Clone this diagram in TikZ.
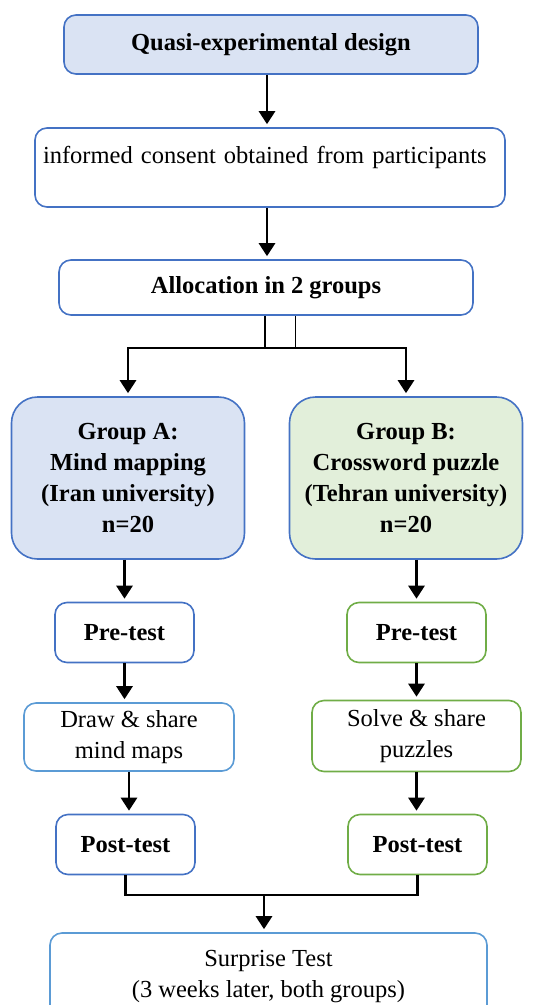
\documentclass[tikz,border=0pt]{standalone}
\usepackage{fontspec}
\setmainfont{Liberation Serif}
\usetikzlibrary{arrows.meta}
\definecolor{boxblue}{HTML}{4472C4}
\definecolor{lightline}{HTML}{5B9BD5}
\definecolor{greenline}{HTML}{70AD47}
\definecolor{bluefill}{HTML}{DAE3F3}
\definecolor{greenfill}{HTML}{E2EFDA}
\tikzset{
  box/.style={draw=boxblue,line width=1.6pt,rounded corners=12pt,align=center,
    inner sep=4pt,font=\fontsize{24.5}{31}\selectfont},
  boldbox/.style={box,font=\fontsize{24.5}{31}\selectfont\bfseries},
  groupbox/.style={boldbox,rounded corners=26pt,minimum width=233pt,minimum height=162pt},
  testbox/.style={boldbox,minimum width=139pt,minimum height=60pt},
  link/.style={line width=2.8pt},
  arr/.style={link,->,shorten >=3pt}
}
\begin{document}
\begin{tikzpicture}[x=1pt,y=-1pt,line join=miter,>={Triangle[width=16pt,length=13pt]}]
\useasboundingbox (0,0) rectangle (552,1005);
\clip (0,0) rectangle (552,1005);
\node[boldbox,fill=bluefill,minimum width=414pt,minimum height=59pt] (quasi) at (271,44.5) {Quasi-experimental design};
\node[box,text width=454pt,align=left,inner sep=8pt,minimum height=79pt,text height=17pt,text depth=26pt] (consent) at (270,167.5) {informed consent obtained from participants};
\node[boldbox,minimum width=414pt,minimum height=55pt] (alloc) at (266,287.5) {Allocation in 2 groups};
\node[groupbox,fill=bluefill] (grpA) at (128,478) {Group A:\\Mind mapping\\(Iran university)\\n=20};
\node[groupbox,fill=greenfill] (grpB) at (406,478) {Group B:\\Crossword puzzle\\(Tehran university)\\n=20};
\node[testbox] (preA) at (124.5,632.5) {Pre-test};
\node[testbox,draw=greenline] (preB) at (416.5,632.5) {Pre-test};
\node[box,draw=lightline,minimum width=210pt,minimum height=68pt] (drawA) at (129,737) {Draw \& share\\mind maps};
\node[box,draw=greenline,minimum width=209pt,minimum height=71pt] (solveB) at (416.5,736) {Solve \& share\\puzzles};
\node[testbox] (postA) at (125.5,844.5) {Post-test};
\node[testbox,draw=greenline] (postB) at (417.5,844.5) {Post-test};
\node[box,draw=lightline,minimum width=437pt,minimum height=88pt] (surprise) at (268.5,977) {Surprise Test\\(3 weeks later, both groups)};
\coordinate (split) at (265,348);
\coordinate (tick) at (295,348);
\coordinate (merge) at (264,895);
\draw[arr] (quasi.south -| 267,0) -- (consent.north -| 267,0);
\draw[arr] (consent.south -| 267,0) -- (alloc.north -| 267,0);
\draw[link] (alloc.south -| split) -- (split);
\draw[line width=0.8pt] (alloc.south -| tick) -- (tick);
\draw[arr] (split) -| (grpA.north);
\draw[arr] (split) -| (grpB.north);
\draw[arr] (grpA.south -| preA) -- (preA.north);
\draw[arr] (grpB.south -| preB) -- (preB.north);
\draw[arr] (preA.south) -- (preA.south |- drawA.north);
\draw[arr] (preB.south) -- (preB.south |- solveB.north);
\draw[arr] (drawA.south) -- (drawA.south |- postA.north);
\draw[arr] (solveB.south) -- (solveB.south |- postB.north);
\draw[link] (postA.south) |- (merge) -| (postB.south);
\draw[arr] (merge) -- (surprise.north -| merge);
\end{tikzpicture}
\end{document}
